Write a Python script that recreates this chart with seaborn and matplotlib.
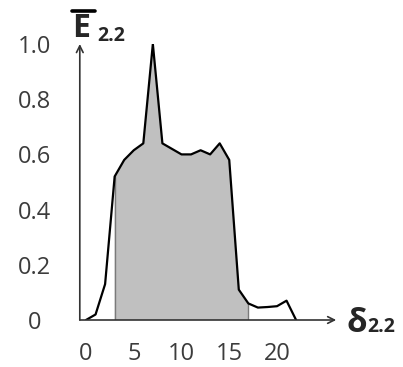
import numpy as np
import pandas as pd
import matplotlib
matplotlib.use("Agg")
import matplotlib.pyplot as plt
import seaborn as sns

# ---- data ----
delta = [0, 1, 2, 3, 4, 5, 6, 7, 8, 9, 10, 11, 12, 13, 14, 15, 16, 17, 18, 19, 20, 21, 22]
energy = [0.0, 0.02, 0.13, 0.52, 0.58, 0.615, 0.64, 1.0, 0.64, 0.62, 0.60, 0.60,
          0.615, 0.60, 0.64, 0.58, 0.11, 0.06, 0.045, 0.047, 0.05, 0.07, 0.0]
shade_from, shade_to = 3, 17
xticks = [0, 5, 10, 15, 20]
yticks = [0, 0.2, 0.4, 0.6, 0.8, 1.0]
ytick_labels = ["0", "0.2", "0.4", "0.6", "0.8", "1.0"]

df = pd.DataFrame({"delta": delta, "energy": energy})

sns.set_style("white")
plt.rcParams["font.family"] = ["Open Sans", "DejaVu Sans"]

W, H = 403, 367
fig = plt.figure(figsize=(W / 100, H / 100), dpi=100)
ax = fig.add_axes([79.8 / W, 47 / H, (336.2 - 79.8) / W, 276 / H])

# shaded region
sub = df[(df.delta >= shade_from) & (df.delta <= shade_to)]
ax.fill_between(sub.delta, 0, sub.energy, facecolor="#c0c0c0", edgecolor="none", zorder=1)
for xv in (shade_from, shade_to):
    yv = df.loc[df.delta == xv, "energy"].iloc[0]
    ax.plot([xv, xv], [0, yv], color="#7a7a7a", lw=1.0, zorder=2)

sns.lineplot(data=df, x="delta", y="energy", ax=ax, color="black", lw=1.6, zorder=3)

ax.set_xlim(-0.65, 26.2)
ax.set_ylim(0, 1.0)
for s in ax.spines.values():
    s.set_visible(False)
ax.set_xlabel("")
ax.set_ylabel("")

ax.set_xticks(xticks)
ax.set_xticklabels([str(t) for t in xticks])
ax.set_yticks(yticks)
ax.set_yticklabels(ytick_labels)
ax.tick_params(axis="y", length=0, pad=32.4, labelsize=17, labelcolor="#3c3c3c")
ax.tick_params(axis="x", length=0, pad=16, labelsize=17, labelcolor="#3c3c3c")
for lab in ax.get_yticklabels():
    lab.set_horizontalalignment("center")

# axis arrows
arrow_kw = dict(arrowstyle="->", color="#333333", lw=1.2, shrinkA=0, shrinkB=0,
                mutation_scale=12)
ax.annotate("", xy=(1, 0), xytext=(0, 0), xycoords="axes fraction",
            textcoords="axes fraction", arrowprops=arrow_kw, zorder=4)
ax.annotate("", xy=(0, 1.0), xytext=(0, 0), xycoords="axes fraction",
            textcoords="axes fraction", arrowprops=arrow_kw, zorder=4)

def px(x, y):
    return x / W, 1 - y / H

# axis labels
fig.text(*px(72, 37), "E", fontsize=23, fontweight="bold", ha="left", va="baseline")
fig.add_artist(plt.Line2D([72 / W, 95 / W], [1 - 11 / H, 1 - 11 / H], color="black", lw=2.6))
fig.text(*px(97, 41), "2.2", fontsize=14, fontweight="bold", ha="left", va="baseline")
fig.text(*px(346, 332), "δ", fontsize=24, fontweight="bold", ha="left", va="baseline")
fig.text(*px(367, 332), "2.2", fontsize=14, fontweight="bold", ha="left", va="baseline")

fig.savefig("out.png", dpi=100)
